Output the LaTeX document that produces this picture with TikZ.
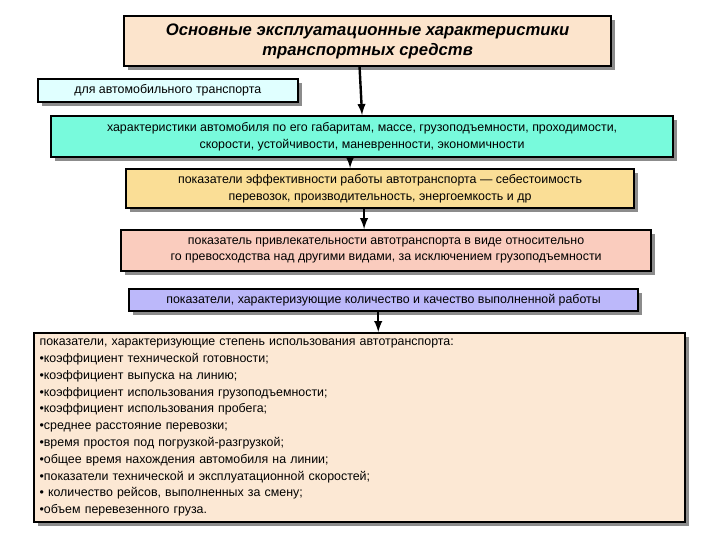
\documentclass[tikz,border=0pt]{standalone}
\usepackage{fontspec}
\setmainfont{Liberation Sans}
\usetikzlibrary{positioning,shadows}

\definecolor{titlefill}{RGB}{252,228,204}
\definecolor{autofill}{RGB}{224,255,255}
\definecolor{tealfill}{RGB}{120,250,220}
\definecolor{yellowfill}{RGB}{250,222,150}
\definecolor{pinkfill}{RGB}{250,204,190}
\definecolor{purplefill}{RGB}{188,184,250}
\definecolor{bigfill}{RGB}{252,232,212}

\tikzset{
  box/.style={draw=black, line width=1.6pt, inner sep=2pt, align=center,
    anchor=north west, font=\fontsize{9.3}{12.5}\selectfont,
    drop shadow={shadow xshift=3pt, shadow yshift=-3pt, fill=black!45, opacity=1}},
  link/.style={line width=1.8pt, -latex}
}

\begin{document}
\begin{tikzpicture}[x=0.75pt,y=-0.75pt]
  \useasboundingbox (0,0) rectangle (720,540);

  %boxes
  \node[box, fill=titlefill, minimum width=487*0.75pt, minimum height=50*0.75pt,
    font=\fontsize{12.5}{15}\selectfont\bfseries\itshape] (title) at (123,15)
    {Основные эксплуатационные характеристики\\транспортных средств};
  \node[box, fill=autofill, minimum width=260*0.75pt, minimum height=23*0.75pt,
    line width=1.2pt] (auto) at (37,78) {для автомобильного транспорта};
  \node[box, fill=tealfill, minimum width=622*0.75pt, minimum height=41*0.75pt] (teal) at (50,115)
    {характеристики автомобиля по его габаритам, массе, грузоподъемности, проходимости,\\
     скорости, устойчивости, маневренности, экономичности};
  \node[box, fill=yellowfill, minimum width=508*0.75pt, minimum height=39*0.75pt] (eff) at (125,168)
    {показатели эффективности работы автотранспорта — себестоимость\\
     перевозок, производительность, энергоемкость и др};
  \node[box, fill=pinkfill, minimum width=530*0.75pt, minimum height=41*0.75pt] (attr) at (120,229)
    {показатель привлекательности автотранспорта в виде относительно\\
     го превосходства над другими видами, за исключением грузоподъемности};
  \node[box, fill=purplefill, minimum width=509*0.75pt, minimum height=22*0.75pt] (qual) at (128,288)
    {показатели, характеризующие количество и качество выполненной работы};
  \node[box, fill=bigfill, minimum width=651*0.75pt, minimum height=189*0.75pt,
    align=left, text width=640*0.75pt, inner sep=4pt,
    font=\fontsize{9.3}{12.6}\selectfont] (use) at (33,332)
    {показатели, характеризующие степень использования автотранспорта:\\
     •коэффициент технической готовности;\\
     •коэффициент выпуска на линию;\\
     •коэффициент использования грузоподъемности;\\
     •коэффициент использования пробега;\\
     •среднее расстояние перевозки;\\
     •время простоя под погрузкой-разгрузкой;\\
     •общее время нахождения автомобиля на линии;\\
     •показатели технической и эксплуатационной скоростей;\\
     • количество рейсов, выполненных за смену;\\
     •объем перевезенного груза.};

  %arrows
  \draw[link] ([xshift=-6pt]title.south) -- (teal.north);
  \draw[link] ([xshift=-9pt]teal.south) -- ([xshift=-9pt]teal.south |- eff.north);
  \draw[link] ([xshift=-12pt]eff.south) -- ([xshift=-12pt]eff.south |- attr.north);
  \draw[link] ([xshift=-4pt]qual.south) -- ([xshift=-4pt]qual.south |- use.north);
\end{tikzpicture}
\end{document}
